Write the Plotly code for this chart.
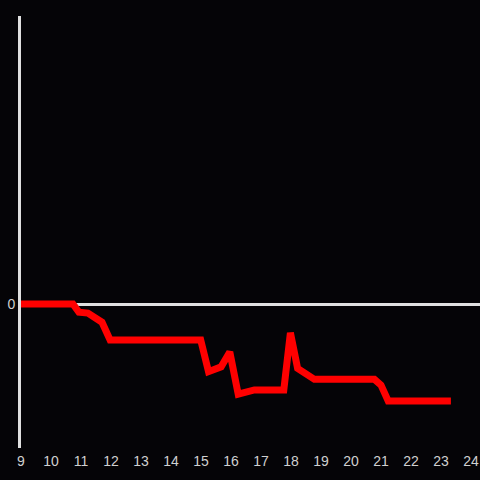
import plotly.graph_objects as go

hours = [9.0, 10.73, 10.93, 11.23, 11.7, 11.97, 14.99, 15.25, 15.67, 15.96, 16.24, 16.78,
         17.76, 17.98, 18.22, 18.78, 20.78, 21.0, 21.24, 23.33]
values = [0.0, 0.0, -0.17, -0.19, -0.38, -0.75, -0.75, -1.41, -1.31, -1.0, -1.88, -1.79,
          -1.79, -0.6, -1.34, -1.57, -1.57, -1.69, -2.02, -2.02]
x_ticks = list(range(9, 25))

fig = go.Figure(go.Scatter(x=hours, y=values, mode="lines",
                           line=dict(color="#ff0000", width=7), hoverinfo="skip"))

fig.update_layout(
    width=480, height=480,
    margin=dict(l=21, r=0, t=16, b=32),
    paper_bgcolor="#050407", plot_bgcolor="#050407",
    showlegend=False,
    font=dict(family="Liberation Sans, Arial, sans-serif", size=14, color="#d0d0d0"),
    xaxis=dict(range=[9, 24.3], tickvals=x_ticks, ticktext=[str(t) for t in x_ticks],
               showgrid=False, zeroline=False, showline=False, ticks="", ticklen=0,
               ticklabelstandoff=3,
               tickfont=dict(size=14, color="#d0d0d0"), automargin=False),
    yaxis=dict(range=[-3, 6], tickvals=[0], ticktext=["0"], showgrid=False,
               zeroline=True, zerolinecolor="#e0e0e0", zerolinewidth=3,
               showline=True, linecolor="#e0e0e0", linewidth=3, ticks="",
               tickfont=dict(size=14, color="#d0d0d0"), automargin=False),
)

fig.write_html("out.html", config={"displayModeBar": False},
               post_script="document.body.style.margin='0';document.body.style.background='#050407';")
